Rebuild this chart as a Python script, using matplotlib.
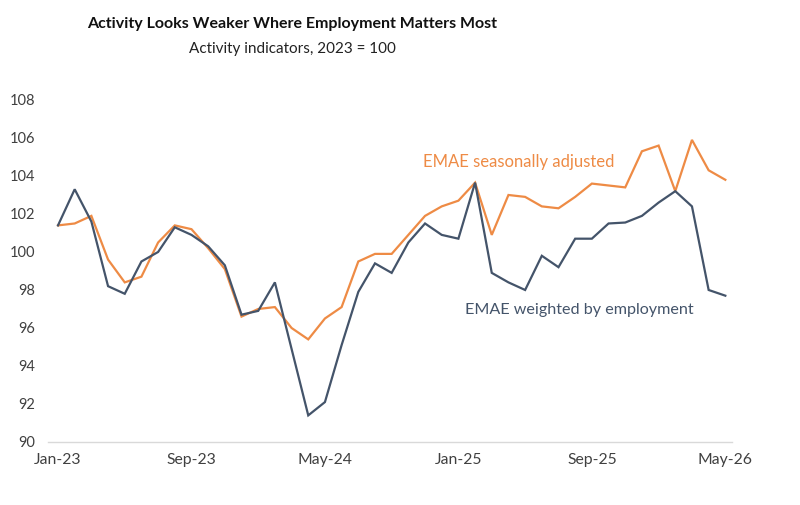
import matplotlib.pyplot as plt
import numpy as np

# Monthly index values, Jan-23 .. May-26
months = ["Jan-23", "Feb-23", "Mar-23", "Apr-23", "May-23", "Jun-23", "Jul-23", "Aug-23",
          "Sep-23", "Oct-23", "Nov-23", "Dec-23", "Jan-24", "Feb-24", "Mar-24", "Apr-24",
          "May-24", "Jun-24", "Jul-24", "Aug-24", "Sep-24", "Oct-24", "Nov-24", "Dec-24",
          "Jan-25", "Feb-25", "Mar-25", "Apr-25", "May-25", "Jun-25", "Jul-25", "Aug-25",
          "Sep-25", "Oct-25", "Nov-25", "Dec-25", "Jan-26", "Feb-26", "Mar-26", "Apr-26",
          "May-26"]

emae_sa = [101.4, 101.5, 101.9, 99.6, 98.4, 98.7, 100.5, 101.4, 101.2, 100.2,
           99.1, 96.6, 97.0, 97.1, 96.0, 95.4, 96.5, 97.1, 99.5, 99.9,
           99.9, 100.9, 101.9, 102.4, 102.7, 103.65, 100.9, 103.0, 102.9, 102.4,
           102.3, 102.9, 103.6, 103.5, 103.4, 105.3, 105.6, 103.2, 105.9, 104.3,
           103.8]

emae_emp = [101.4, 103.3, 101.6, 98.2, 97.8, 99.5, 100.0, 101.3, 100.9, 100.3,
            99.3, 96.7, 96.9, 98.4, 94.9, 91.4, 92.1, 95.1, 97.9, 99.4,
            98.9, 100.5, 101.5, 100.9, 100.7, 103.65, 98.9, 98.4, 98.0, 99.8,
            99.2, 100.7, 100.7, 101.5, 101.55, 101.9, 102.6, 103.2, 102.4, 98.0,
            97.7]

yticks = [90, 92, 94, 96, 98, 100, 102, 104, 106, 108]
xtick_step = 8

orange = "#EE8B45"
navy = "#44546A"
grey = "#404040"

plt.rcParams["font.family"] = ["Lato", "DejaVu Sans"]

fig = plt.figure(figsize=(8, 5.05), dpi=100)
ax = fig.add_axes([0.06, 0.1248, 0.855, 0.6772])

x = np.arange(len(months))
ax.plot(x, emae_sa, color=orange, lw=1.6, solid_joinstyle="miter")
ax.plot(x, emae_emp, color=navy, lw=1.6, solid_joinstyle="miter")

ax.set_ylim(90, 108)
ax.set_xlim(-0.6, len(months) - 0.6)
ax.set_yticks(yticks)
ax.set_yticklabels([str(v) for v in yticks])
ax.set_xticks(x[::xtick_step])
ax.set_xticklabels(months[::xtick_step])

for side in ["top", "right", "left"]:
    ax.spines[side].set_visible(False)
ax.spines["bottom"].set_color("#D9D9D9")
ax.spines["bottom"].set_linewidth(1.0)
ax.tick_params(axis="both", length=0, labelsize=10.5, colors=grey)
ax.tick_params(axis="x", labelsize=11.3, pad=8)
ax.tick_params(axis="y", pad=9)

# direct labels instead of a legend
ax.text(21.9, 104.75, "EMAE seasonally adjusted", color=orange, fontsize=12,
        ha="left", va="center")
ax.text(24.4, 96.95, "EMAE weighted by employment", color=navy, fontsize=11.6,
        ha="left", va="center")

fig.text(0.365, 0.953, "Activity Looks Weaker Where Employment Matters Most",
         ha="center", va="center", fontsize=11.5, fontweight="bold", color="#111111")
fig.text(0.365, 0.903, "Activity indicators, 2023 = 100",
         ha="center", va="center", fontsize=11, color="#222222")

fig.savefig("out.png", dpi=100)
